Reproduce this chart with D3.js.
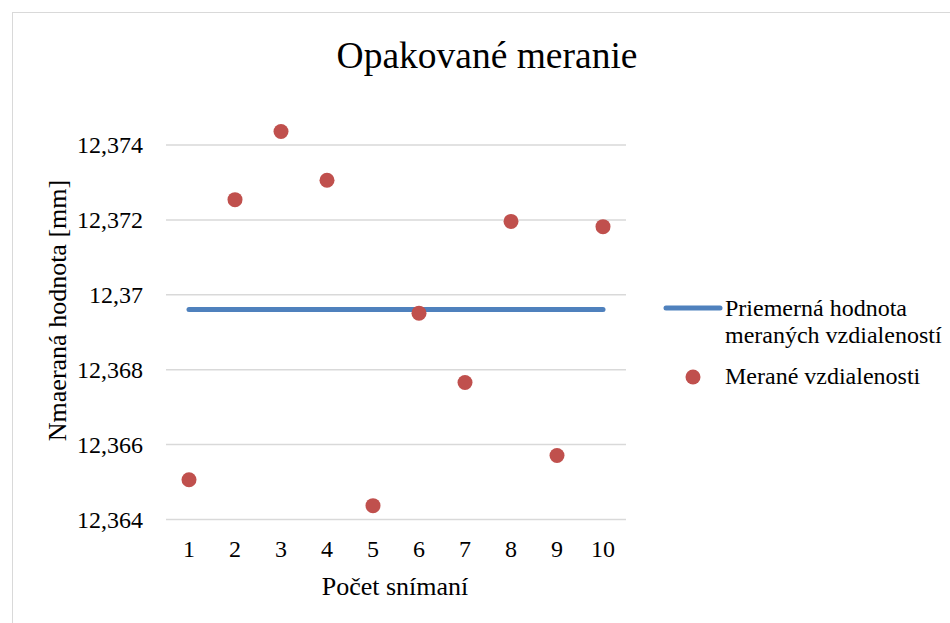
<!DOCTYPE html>
<html>
<head>
<meta charset="utf-8">
<script src="https://cdn.jsdelivr.net/npm/d3@7"></script>
<style>
  html, body { margin: 0; padding: 0; background: #fff; }
  svg { display: block; }
  text { font-family: "Liberation Serif", "Times New Roman", serif; fill: #000; }
</style>
</head>
<body>
<svg id="chart" width="950" height="623"></svg>
<script>
// Measurement index (x axis categories)
const categories = [1, 2, 3, 4, 5, 6, 7, 8, 9, 10];
// Measured distances [mm]
const measured = [12.36506, 12.37254, 12.37436, 12.37306, 12.36437, 12.36951, 12.36766, 12.37196, 12.36571, 12.37182];
// Y axis tick values
const yTicks = [12.364, 12.366, 12.368, 12.370, 12.372, 12.374];
const yTickLabels = ["12,364", "12,366", "12,368", "12,37", "12,372", "12,374"];

const meanValue = d3.mean(measured);
const meanSeries = categories.map(() => meanValue);

const FONT = "Liberation Serif, Times New Roman, serif";
const svg = d3.select("#chart");

// Outer chart frame
svg.append("rect")
  .attr("x", 12.5).attr("y", 12.5)
  .attr("width", 960).attr("height", 640)
  .attr("fill", "#fff").attr("stroke", "#d9d9d9").attr("stroke-width", 1);

const plot = { left: 166, right: 626, bottom: 519.5 };

const x = d3.scaleBand().domain(categories).range([plot.left, plot.right]).padding(0);
const y = d3.scaleLinear().domain([12.364, 12.376]).range([plot.bottom, plot.bottom - 6 * 74.9]);

// Horizontal gridlines
svg.append("g")
  .selectAll("line")
  .data(yTicks)
  .join("line")
  .attr("x1", plot.left).attr("x2", plot.right)
  .attr("y1", d => y(d)).attr("y2", d => y(d))
  .attr("stroke", "#d9d9d9").attr("stroke-width", 1.5);

// Y axis labels
const yAxis = d3.axisLeft(y)
  .tickValues(yTicks)
  .tickFormat((d, i) => yTickLabels[i])
  .tickSize(0).tickPadding(0);
svg.append("g")
  .attr("transform", `translate(${plot.left - 23},0)`)
  .call(yAxis)
  .call(g => g.select(".domain").remove())
  .call(g => g.selectAll("text")
    .attr("font-family", FONT)
    .attr("font-size", 24).attr("fill", "#000"));

// X axis labels
const xAxis = d3.axisBottom(x).tickSize(0).tickPadding(0);
svg.append("g")
  .attr("transform", `translate(0,${plot.bottom + 20})`)
  .call(xAxis)
  .call(g => g.select(".domain").remove())
  .call(g => g.selectAll("text")
    .attr("font-family", FONT)
    .attr("font-size", 24).attr("fill", "#000"));

const cx = d => x(d) + x.bandwidth() / 2;

// Average line
const line = d3.line()
  .x((d, i) => cx(categories[i]))
  .y(d => y(d));
svg.append("path")
  .datum(meanSeries)
  .attr("d", line)
  .attr("fill", "none")
  .attr("stroke", "#4F81BD")
  .attr("stroke-width", 5)
  .attr("stroke-linecap", "round");

// Measured points
svg.append("g")
  .selectAll("circle")
  .data(measured)
  .join("circle")
  .attr("cx", (d, i) => cx(categories[i]))
  .attr("cy", d => y(d))
  .attr("r", 7.5)
  .attr("fill", "#C0504D");

// Title
svg.append("text")
  .attr("x", 487).attr("y", 68)
  .attr("text-anchor", "middle")
  .attr("font-size", 37.5)
  .text("Opakované meranie");

// Axis titles
svg.append("text")
  .attr("x", 395).attr("y", 595)
  .attr("text-anchor", "middle")
  .attr("font-size", 26)
  .text("Počet snímaní");

svg.append("text")
  .attr("transform", "translate(66,310.5) rotate(-90)")
  .attr("text-anchor", "middle")
  .attr("font-size", 26)
  .text("Nmaeraná hodnota [mm]");

// Legend
const legend = svg.append("g");
legend.append("line")
  .attr("x1", 666).attr("x2", 720)
  .attr("y1", 308).attr("y2", 308)
  .attr("stroke", "#4F81BD").attr("stroke-width", 5)
  .attr("stroke-linecap", "round");
legend.append("text")
  .attr("x", 725).attr("y", 316)
  .attr("font-size", 24)
  .call(t => {
    t.append("tspan").attr("x", 725).text("Priemerná hodnota");
    t.append("tspan").attr("x", 725).attr("dy", 27).text("meraných vzdialeností");
  });
legend.append("circle")
  .attr("cx", 693).attr("cy", 377).attr("r", 7.5)
  .attr("fill", "#C0504D");
legend.append("text")
  .attr("x", 725).attr("y", 384)
  .attr("font-size", 24)
  .text("Merané vzdialenosti");
</script>
</body>
</html>
